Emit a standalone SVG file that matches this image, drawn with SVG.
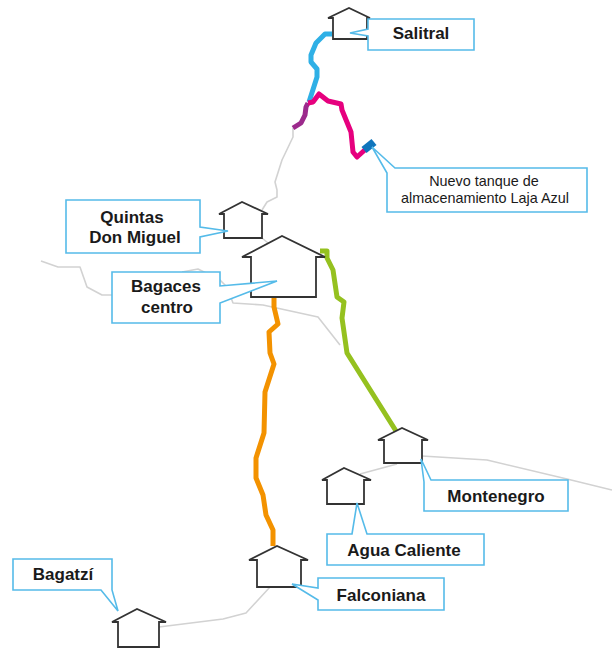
<svg xmlns="http://www.w3.org/2000/svg" width="612" height="648" viewBox="0 0 612 648">
<style>
text{font-family:"Liberation Sans",Arial,sans-serif;text-anchor:middle;fill:#1a1a1a}
.b{font-size:17px;font-weight:bold}
.n{font-size:14.4px}
.h{fill:#fff;stroke:#333;stroke-width:1.8;stroke-linejoin:miter}
.c{fill:#fff;stroke:#55bbe9;stroke-width:1.6;stroke-linejoin:miter}
.g{fill:none;stroke:#d2d2d2;stroke-width:1.6;stroke-linejoin:round}
.p{fill:none;stroke-width:5;stroke-linejoin:round}
</style>
<rect width="612" height="648" fill="#fff"/>
<g id="connectors">
<polyline class="g" points="293,128 293,137 282,160 275,182 277,190 277,197 267,202 262,210"/>
<polyline class="g" points="262,238 268,243"/>
<polyline class="g" points="41,261 58,267 80,267 87,287 102,295 112,295"/>
<polyline class="g" points="182,272 198,269 220,280 227,287 233,303 263,305 318,317 340,345"/>
<polyline class="g" points="360,474 397,464"/>
<polyline class="g" points="422,456 487,460 567,479 612,490"/>
<polyline class="g" points="159,627 223,619 246,613 270,587"/>
<polyline class="p" stroke="#2fb0e6" points="332,34 325,34 316,43 311,55 311,62 317,69 317,77 309,102"/>
<polyline class="p" stroke="#9c2a8c" points="308,103 306,107 305,115 301,123 293,128"/>
<polyline class="p" stroke="#e6007e" points="308,103 313,102 319,94 328,101 341,104 342,110 351,132 353,152 357,157 367,148"/>
<polyline class="p" stroke="#0f75bc" style="stroke-width:8" points="364,150 374,142"/>
<polyline class="p" stroke="#f39200" points="274,297 274,307 278,324 269,332 270,353 274,364 265,392 264,433 256,458 256,478 263,495 266,515 273,530 273,546"/>
<polyline class="p" stroke="#95c11f" points="320,251 327,251 327,258 333,270 337,297 344,302 342,318 347,353 396,431"/>
</g>
<g id="salitral">
<path class="h" d="M328,18 349,8 370,18 367,18 367,39 333,39 333,18Z"/>
<path class="c" d="M368,19H474V50H368V36L350,33 368,29Z"/>
<text class="b" x="421" y="39">Salitral</text>
</g>
<g id="tanque">
<path class="c" d="M395,168H587V212H387V173L372,147Z"/>
<text class="n" x="484" y="186">Nuevo tanque de</text>
<text class="n" x="485" y="203">almacenamiento Laja Azul</text>
</g>
<g id="quintas">
<path class="h" d="M219,214 242,202 268,214 262,214 262,238 224,238 224,214Z"/>
<path class="c" d="M66,200H200V227L228,231 200,237V253H66Z"/>
<text class="b" x="132" y="223">Quintas</text>
<text class="b" x="135" y="243">Don Miguel</text>
</g>
<g id="bagaces">
<path class="h" d="M242,257 282,236 325,257 316,257 316,297 251,297 251,257Z"/>
<path class="c" d="M112,272H220V286L277,281 220,303V323H112Z"/>
<text class="b" x="166" y="292">Bagaces</text>
<text class="b" x="167" y="313">centro</text>
</g>
<g id="montenegro">
<path class="h" d="M378,440 402,428 428,440 422,440 422,463 384,463 384,440Z"/>
<path class="c" d="M431,480H568V511H424V482L421,459Z"/>
<text class="b" x="496" y="502">Montenegro</text>
</g>
<g id="agua-caliente">
<path class="h" d="M322,480 344,468 371,480 364,480 364,504 327,504 327,480Z"/>
<path class="c" d="M352,534 357,503 367,534H484V565H327V534Z"/>
<text class="b" x="404" y="556">Agua Caliente</text>
</g>
<g id="falconiana">
<path class="h" d="M249,560 277,546 308,560 301,560 301,587 257,587 257,560Z"/>
<path class="c" d="M318,578H444V610H318V600L292,584 318,588Z"/>
<text class="b" x="381" y="601">Falconiana</text>
</g>
<g id="bagatzi">
<path class="h" d="M112,622 137,609 166,622 159,622 159,647 118,647 118,622Z"/>
<path class="c" d="M13,559H112V590L118,611 101,590H13Z"/>
<text class="b" x="63" y="580">Bagatzí</text>
</g>
</svg>
